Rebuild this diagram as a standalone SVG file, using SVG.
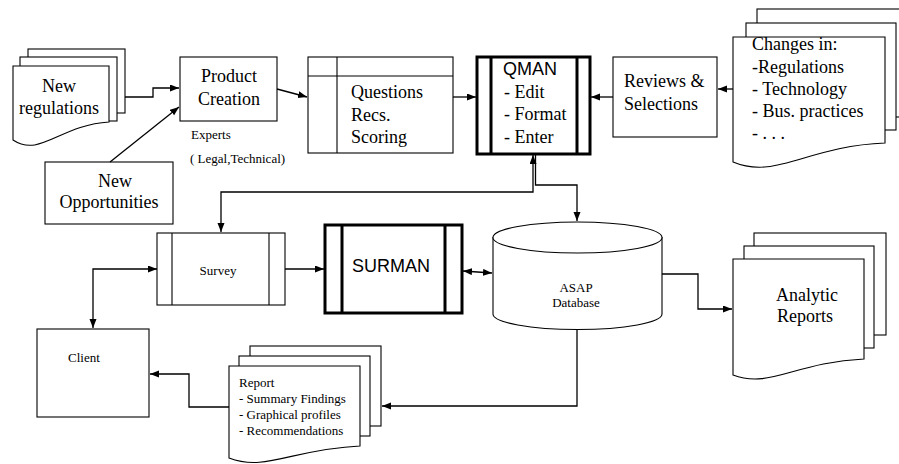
<svg xmlns="http://www.w3.org/2000/svg" width="899" height="464" viewBox="0 0 899 464">
<style>
.box{fill:#fff;stroke:#000;stroke-width:1.1}
.thick{fill:#fff;stroke:#000;stroke-width:3}
.tl{fill:none;stroke:#000;stroke-width:3}
.ln{fill:none;stroke:#000;stroke-width:1.1}
.con{fill:none;stroke:#000;stroke-width:1.3}
.s{font-family:"Liberation Serif","Times New Roman",serif;font-size:18px;fill:#000}
.ss{font-family:"Liberation Serif","Times New Roman",serif;font-size:13px;fill:#000}
.a{font-family:"Liberation Sans",Arial,sans-serif;font-size:18px;fill:#000}
.c{text-anchor:middle}
</style>
<defs>
<marker id="ah" markerUnits="userSpaceOnUse" markerWidth="10" markerHeight="8" refX="9" refY="3.5" orient="auto-start-reverse">
<path d="M0,0 L9,3.5 L0,7 z" fill="#000"/>
</marker>
</defs>

<g id="new-regulations">
<rect class="box" x="28" y="49" width="97" height="64"/>
<rect class="box" x="20" y="57" width="97" height="64"/>
<path class="box" d="M13,66 H109 V122 C60,125 40,158 13,140 Z"/>
<text class="s c" x="59" y="92">New</text>
<text class="s c" x="59" y="114">regulations</text>
</g>

<g id="product-creation">
<rect class="box" x="180" y="57" width="97" height="64"/>
<text class="s c" x="229" y="82">Product</text>
<text class="s c" x="229" y="105">Creation</text>
<text class="ss" x="191" y="139">Experts</text>
<text class="ss" x="190" y="163">( Legal,Technical)</text>
</g>

<g id="new-opportunities">
<rect class="box" x="45" y="162" width="128" height="62"/>
<text class="s c" x="115" y="187">New</text>
<text class="s c" x="109" y="208">Opportunities</text>
</g>

<g id="questions">
<rect class="box" x="308" y="57" width="145" height="96"/>
<path class="ln" d="M337,57 V153 M308,76 H453"/>
<text class="s" x="351" y="98">Questions</text>
<text class="s" x="351" y="121">Recs.</text>
<text class="s" x="351" y="143">Scoring</text>
</g>

<g id="qman">
<rect class="thick" x="477" y="57" width="113" height="97"/>
<path class="tl" d="M491,57 V154 M577,57 V154"/>
<text class="a" x="503" y="75">QMAN</text>
<text class="s" x="504" y="98">- Edit</text>
<text class="s" x="504" y="120">- Format</text>
<text class="s" x="504" y="143">- Enter</text>
</g>

<g id="reviews">
<rect class="box" x="613" y="57" width="104" height="80"/>
<text class="s" x="624" y="87">Reviews &amp;</text>
<text class="s" x="624" y="110">Selections</text>
</g>

<g id="changes">
<rect class="box" x="757" y="9" width="160" height="108"/>
<rect class="box" x="746" y="23" width="150" height="107"/>
<path class="box" d="M733,37 H885 V143 C807,146 776,180 733,162 Z"/>
<text class="s" x="752" y="50">Changes in:</text>
<text class="s" x="752" y="73">-Regulations</text>
<text class="s" x="752" y="95">- Technology</text>
<text class="s" x="752" y="117">- Bus. practices</text>
<text class="s" x="752" y="139">- . . .</text>
</g>

<g id="survey">
<rect class="box" x="157" y="233" width="128" height="72"/>
<path class="ln" d="M172,233 V305 M269,233 V305"/>
<text class="ss c" x="218" y="275">Survey</text>
</g>

<g id="surman">
<rect class="thick" x="325" y="225" width="137" height="88"/>
<path class="tl" d="M342,225 V313 M445,225 V313"/>
<text class="a c" x="391" y="272">SURMAN</text>
</g>

<g id="database">
<path class="box" d="M493,237 V314 A84.5,15.5 0 0 0 662,314 V237"/>
<ellipse class="box" cx="577.5" cy="237.5" rx="84.5" ry="15.5"/>
<text class="ss c" x="576" y="292">ASAP</text>
<text class="ss c" x="576" y="307">Database</text>
</g>

<g id="analytic-reports">
<rect class="box" x="754" y="233" width="132" height="102"/>
<rect class="box" x="744" y="246" width="130" height="102"/>
<path class="box" d="M733,259 H864 V359 C795,362 770,389 733,375 Z"/>
<text class="s c" x="807" y="301">Analytic</text>
<text class="s c" x="805" y="322">Reports</text>
</g>

<g id="client">
<rect class="box" x="37" y="329" width="112" height="88"/>
<text class="ss" x="68" y="362">Client</text>
</g>

<g id="report">
<rect class="box" x="250" y="346" width="131" height="80"/>
<rect class="box" x="239" y="356" width="131" height="80"/>
<path class="box" d="M229,366 H360 V446 C292,449 266,472 229,458 Z"/>
<text class="ss" x="239" y="387">Report</text>
<text class="ss" x="239" y="403">- Summary Findings</text>
<text class="ss" x="239" y="419">- Graphical profiles</text>
<text class="ss" x="239" y="435">- Recommendations</text>
</g>

<g id="connectors">
<path class="con" d="M125,97 H153 V88 H179" marker-end="url(#ah)"/>
<path class="con" d="M110,162 L179,107" marker-end="url(#ah)"/>
<path class="con" d="M277,89 L307,97" marker-end="url(#ah)"/>
<path class="con" d="M453,97 H476" marker-end="url(#ah)"/>
<path class="con" d="M613,97 H591" marker-end="url(#ah)"/>
<path class="con" d="M733,89 H718" marker-end="url(#ah)"/>
<path class="con" d="M533,155 V192 H221 V232" marker-start="url(#ah)" marker-end="url(#ah)"/>
<path class="con" d="M535.5,155 V185 H577 V221" marker-end="url(#ah)"/>
<path class="con" d="M157,269 H93 V328" marker-start="url(#ah)" marker-end="url(#ah)"/>
<path class="con" d="M285,269 H324" marker-end="url(#ah)"/>
<path class="con" d="M463,271 L492,273" marker-start="url(#ah)" marker-end="url(#ah)"/>
<path class="con" d="M662,274 H698 V309 H732" marker-end="url(#ah)"/>
<path class="con" d="M577,330 V406 H382" marker-end="url(#ah)"/>
<path class="con" d="M229,407 H189 V374 H150" marker-end="url(#ah)"/>
</g>
</svg>
